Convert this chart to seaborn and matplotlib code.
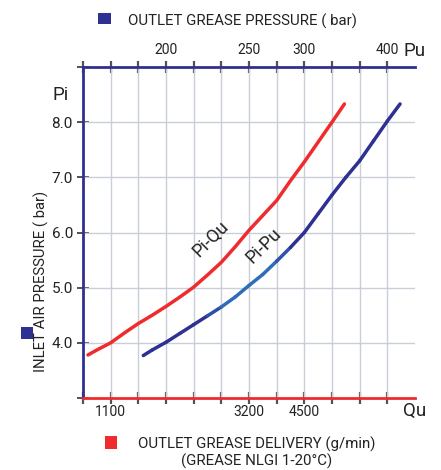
import matplotlib
matplotlib.use("Agg")
import matplotlib.pyplot as plt
from matplotlib.patches import Rectangle
import matplotlib.colors as mcolors
import seaborn as sns
import pandas as pd
import numpy as np

# ---------------- data ----------------
# x positions are grid-column positions on the chart (0..12)
qu_pos = [0.18, 0.5, 1.0, 1.5, 2.0, 2.5, 3.0, 3.5, 4.0, 4.5, 5.0, 5.5, 6.0, 6.5,
          7.0, 7.5, 8.0, 8.5, 9.0, 9.45]
pi_qu = [3.78, 3.87, 4.00, 4.18, 4.35, 4.50, 4.66, 4.83, 5.01, 5.23, 5.46, 5.74,
         6.04, 6.31, 6.58, 6.94, 7.28, 7.64, 8.00, 8.33]

pu_pos = [2.18, 2.5, 3.0, 3.5, 4.0, 4.5, 5.0, 5.5, 6.0, 6.5, 7.0, 7.5, 8.0, 8.5,
          9.0, 9.5, 10.0, 10.5, 11.0, 11.46]
pi_pu = [3.77, 3.87, 4.01, 4.17, 4.33, 4.49, 4.65, 4.83, 5.04, 5.24, 5.48, 5.73,
         6.00, 6.34, 6.68, 7.00, 7.30, 7.66, 8.02, 8.33]

pi_ticks = [3.0, 4.0, 5.0, 6.0, 7.0, 8.0, 9.0]
pi_labels = ["", "4.0", "5.0", "6.0", "7.0", "8.0", ""]
pi_grid = [4.0, 5.0, 6.0, 7.0, 8.0]

pu_tick_pos = [3, 6, 8, 11]
pu_labels = ["200", "250", "300", "400"]

qu_tick_pos = [1, 6, 8]
qu_labels = ["1100", "3200", "4500"]

grid_cols = list(range(0, 12))

# ---------------- style ----------------
NAVY = "#2e3192"
LIGHTBLUE = "#2f6dbb"
RED = "#ef2b2d"
GRID = "#c9ced8"
TICK = "#5e4c55"
TXT = "#222222"

sns.set_theme(style="white")
plt.rcParams["font.family"] = ["Roboto", "DejaVu Sans"]
plt.rcParams["xtick.bottom"] = True
plt.rcParams["xtick.top"] = True
plt.rcParams["ytick.left"] = True

W, H = 441, 470
fig = plt.figure(figsize=(W / 100, H / 100), dpi=100)
ax = fig.add_axes([83 / W, 1 - 398 / H, (415 - 83) / W, (398 - 67) / H])

df_qu = pd.DataFrame({"x": qu_pos, "y": pi_qu})
df_pu = pd.DataFrame({"x": pu_pos, "y": pi_pu})

sns.lineplot(data=df_qu, x="x", y="y", ax=ax, color=RED, lw=2.5, sort=False,
             solid_capstyle="round", solid_joinstyle="round", zorder=3)

# Pi-Pu curve: navy with a lighter blue middle section
navy_rgb = np.array(mcolors.to_rgb(NAVY))
light_rgb = np.array(mcolors.to_rgb(LIGHTBLUE))


def blue_at(xm):
    if xm < 4.5 or xm > 7.6:
        t = 0.0
    elif xm < 5.0:
        t = (xm - 4.5) / 0.5
    elif xm <= 7.0:
        t = 1.0
    else:
        t = 1.0 - (xm - 7.0) / 0.6
    return tuple(navy_rgb * (1 - t) + light_rgb * t)


for i in range(len(df_pu) - 1):
    seg = df_pu.iloc[i:i + 2]
    xm = seg["x"].mean()
    sns.lineplot(data=seg, x="x", y="y", ax=ax, color=blue_at(xm), lw=2.5,
                 sort=False, solid_capstyle="round", zorder=3)

ax.set_xlim(0, 12)
ax.set_ylim(3, 9)
ax.set_xlabel("")
ax.set_ylabel("")

# grid
for gx in grid_cols[1:]:
    ax.axvline(gx, color=GRID, lw=1.0, zorder=1)
for gy in pi_grid:
    ax.axhline(gy, color=GRID, lw=1.0, zorder=1)

# spines
ax.spines["right"].set_visible(False)
ax.spines["left"].set_color(NAVY)
ax.spines["top"].set_color(NAVY)
ax.spines["bottom"].set_color(RED)
for s in ["left", "top", "bottom"]:
    ax.spines[s].set_linewidth(2.0)

ax.set_xticks(grid_cols)
ax.tick_params(axis="x", bottom=True, top=True, direction="inout",
               length=8.5, width=1.6, color=TICK, labelbottom=False, labeltop=False)
ax.set_yticks(pi_ticks)
ax.set_yticklabels(pi_labels)
ax.tick_params(axis="y", direction="inout", length=8.5, width=1.4, color=TICK,
               labelsize=11, pad=3, labelcolor=TXT)


def px(xp, yp):
    return xp / W, 1 - yp / H


# tick labels
for p, lab in zip(qu_tick_pos, qu_labels):
    ax.text(p, -0.043, lab, transform=ax.get_xaxis_transform(), ha="center",
            va="center", fontsize=10, color=TXT)
for p, lab in zip(pu_tick_pos, pu_labels):
    ax.text(p, 1.05, lab, transform=ax.get_xaxis_transform(), ha="center",
            va="center", fontsize=10, color=TXT)

# axis names
fig.text(*px(415, 51), "Pu", ha="center", va="center", fontsize=13.5, color=TXT)
fig.text(*px(415, 411), "Qu", ha="center", va="center", fontsize=13.5, color=TXT)
fig.text(*px(61, 95), "Pi", ha="center", va="center", fontsize=13.5, color=TXT)

# curve labels
ax.text(4.6, 5.88, "Pi-Qu", rotation=45, ha="center", va="center", fontsize=13,
        color=TXT, zorder=6)
ax.text(6.52, 5.76, "Pi-Pu", rotation=45, ha="center", va="center", fontsize=13,
        color=TXT, zorder=6)

# legends / titles
fig.text(*px(128, 21), "OUTLET GREASE PRESSURE ( bar)", ha="left", va="center",
         fontsize=10.8, color=TXT)
fig.text(*px(257, 444), "OUTLET GREASE DELIVERY (g/min)", ha="center", va="center",
         fontsize=10.8, color=TXT)
fig.text(*px(257, 461), "(GREASE NLGI 1-20°C)", ha="center", va="center",
         fontsize=10.8, color=TXT)
fig.text(*px(41, 281), "INLET AIR PRESSURE ( bar)", ha="center", va="center",
         rotation=90, fontsize=10.7, color=TXT)


def square(x0, y0, x1, y1, c):
    fig.patches.append(Rectangle((x0 / W, 1 - y1 / H), (x1 - x0) / W, (y1 - y0) / H,
                                 transform=fig.transFigure, facecolor=c,
                                 edgecolor="none", figure=fig))


square(98, 13, 111, 24, NAVY)
square(105, 436, 117, 449, RED)
square(21, 327, 33, 339, NAVY)

fig.savefig("out.png", dpi=100)
